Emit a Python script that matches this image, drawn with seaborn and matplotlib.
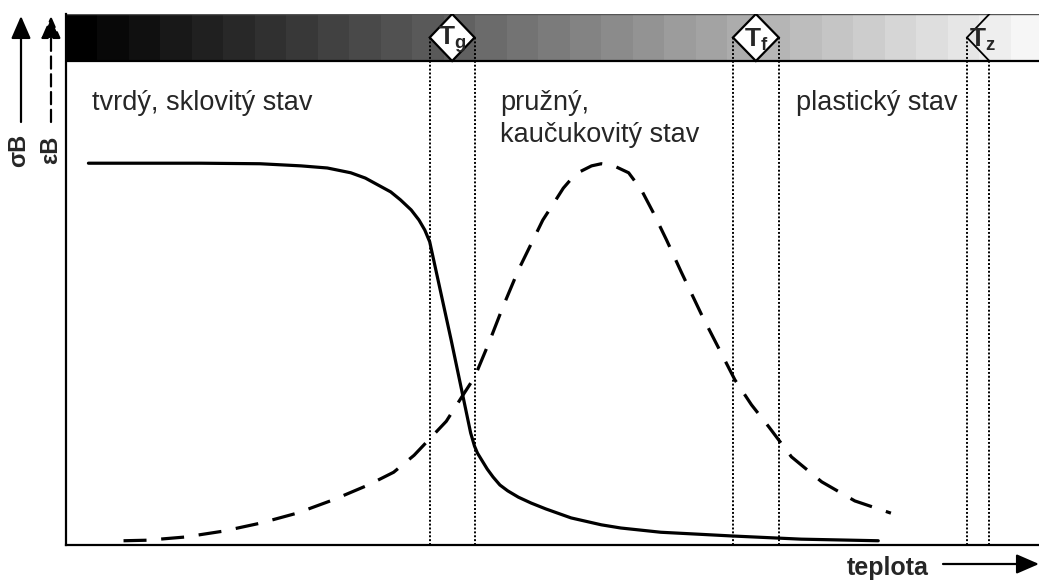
import numpy as np
import matplotlib
matplotlib.use("Agg")
import matplotlib.pyplot as plt
from matplotlib.patches import Polygon
import seaborn as sns

# Tensile strength (solid) versus temperature, relative units
sigma_t = [2.3, 8.6, 13.8, 19.9, 22.0, 24.1, 26.8, 29.2, 30.7, 32.0, 33.3, 34.3,
           35.4, 36.2, 36.8, 37.3, 39.5, 41.5, 41.9, 42.2, 42.7, 43.2, 43.8,
           44.5, 45.3, 46.4, 47.7, 49.2, 51.8, 54.9, 56.9, 61.0, 65.2, 68.3,
           75.4, 83.3]
sigma_v = [71.9, 71.9, 71.9, 71.8, 71.6, 71.4, 71.0, 70.1, 69.1, 67.8, 66.5, 65.0,
           63.1, 61.2, 59.3, 57.1, 38.6, 21.1, 18.6, 17.3, 15.8, 14.3, 12.8,
           11.3, 10.2, 9.0, 7.9, 6.8, 5.1, 3.8, 3.2, 2.4, 2.0, 1.7,
           1.1, 0.8]

# Elongation at break (dashed) versus temperature, relative units
eps_t = [5.9, 8.3, 12.2, 16.1, 19.9, 23.7, 27.4, 31.0, 33.6, 35.7, 37.3, 39.0,
         40.7, 41.9, 43.4, 44.8, 46.4, 48.9, 50.1, 51.0, 51.8, 52.6, 53.9, 54.9,
         56.2, 57.7, 59.0, 60.2, 61.6, 63.1, 65.2, 68.6, 70.3, 72.1, 74.4,
         77.5, 80.9, 84.6]
eps_v = [0.8, 0.9, 1.5, 2.6, 4.1, 6.0, 8.5, 11.3, 13.7, 16.9, 20.0, 23.3,
         28.2, 31.6, 38.2, 44.8, 51.8, 61.2, 64.6, 67.2, 68.9, 70.2, 71.4, 71.8,
         71.4, 70.1, 66.9, 62.7, 57.4, 51.4, 43.3, 31.1, 26.4, 22.2, 16.6,
         11.9, 8.3, 6.0]

# Transition temperatures: (pair of boundary lines, label, marker shape)
transitions = [((37.3, 41.9), "g", "diamond"),
               ((68.4, 73.1), "f", "diamond"),
               ((92.4, 94.7), "z", "chevron")]

regions = [(2.7, 81.9, "tvrdý, sklovitý stav"),
           (44.5, 81.9, "pružný,"),
           (44.5, 75.9, "kaučukovitý stav"),
           (74.9, 81.9, "plastický stav")]

sns.set_theme(style="white")
plt.rcParams["font.family"] = ["Liberation Sans", "DejaVu Sans"]
plt.rcParams["mathtext.fontset"] = "custom"
plt.rcParams["mathtext.rm"] = "Liberation Sans"
plt.rcParams["mathtext.bf"] = "Liberation Sans:bold"

W, H = 1039, 584
fig = plt.figure(figsize=(W / 100, H / 100), dpi=100)
ax = fig.add_axes([66 / W, 39 / H, 1 - 66 / W + 0.002, 531 / H])
ax.set_xlim(0, 100)
ax.set_ylim(0, 100)
ax.set_xticks([])
ax.set_yticks([])
for side in ("top", "right"):
    ax.spines[side].set_visible(False)
for side in ("left", "bottom"):
    ax.spines[side].set_color("black")
    ax.spines[side].set_linewidth(1.6)

# stepped temperature band along the top
band_lo = 91.15
levels = np.arange(31) * 8.2
ax.imshow(levels[np.newaxis, :], cmap="gray", vmin=0, vmax=255,
          extent=[0, 100, band_lo, 100], aspect="auto",
          interpolation="nearest", zorder=1)
ax.axhline(100, color="#555555", lw=1.0, zorder=2)
ax.axhline(band_lo, color="black", lw=1.6, zorder=2)

band_mid = (band_lo + 100) / 2
dotted = dict(color="black", lw=1.4, linestyle=(0, (1.0, 1.0)), zorder=3)
for (x0, x1), sub, shape in transitions:
    xc = (x0 + x1) / 2
    label = rf"$\mathbf{{T}}_{{\mathbf{{{sub}}}}}$"
    if shape == "diamond":
        ax.plot([x0, x0], [0, band_mid], **dotted)
        ax.plot([x1, x1], [0, band_mid], **dotted)
        poly = Polygon([(x0, band_mid), (xc, 100), (x1, band_mid), (xc, band_lo)],
                       closed=True, facecolor="white", edgecolor="black",
                       lw=1.6, zorder=4)
        ax.add_patch(poly)
        ax.text(xc, band_mid - 0.4, label, ha="center", va="center",
                fontsize=19, zorder=5)
    else:
        ax.plot([x0, x0], [0, band_mid], **dotted)
        ax.plot([x1, x1], [0, band_lo], **dotted)
        ax.plot([x1, x0, x1], [100, band_mid, band_lo], color="black",
                lw=1.3, zorder=4, solid_joinstyle="miter")
        ax.text(x0 + 0.2, band_mid - 0.4, label, ha="left", va="center",
                fontsize=19, zorder=5)

sns.lineplot(x=sigma_t, y=sigma_v, ax=ax, color="black", lw=2.3,
             estimator=None, sort=False, zorder=6)
sns.lineplot(x=eps_t, y=eps_v, ax=ax, color="black", lw=2.3,
             estimator=None, sort=False, linestyle=(0, (7.2, 4.6)), zorder=6)

for xt, yt, label in regions:
    ax.text(xt, yt, label, fontsize=19.5, ha="left", va="baseline", zorder=7)

# axis captions with arrows, placed in figure pixels
fig.text(847 / W, (H - 575) / H, "teplota", fontsize=18, fontweight="bold",
         ha="left", va="baseline")
arrow = dict(arrowstyle="-|>,head_length=1.15,head_width=0.5", color="black",
             lw=1.6, shrinkA=0, shrinkB=0)
ax.annotate("", xy=(1039, H - 564), xytext=(943, H - 564),
            xycoords="figure pixels", textcoords="figure pixels",
            arrowprops=arrow, annotation_clip=False)
ax.annotate("", xy=(21, H - 16), xytext=(21, H - 122),
            xycoords="figure pixels", textcoords="figure pixels",
            arrowprops=arrow, annotation_clip=False)
dashed_arrow = dict(arrow, linestyle=(0, (5.5, 2.5)))
ax.annotate("", xy=(51, H - 16), xytext=(51, H - 122),
            xycoords="figure pixels", textcoords="figure pixels",
            arrowprops=dashed_arrow, annotation_clip=False)
fig.text(19 / W, (H - 150) / H, "σB", fontsize=17, fontweight="bold",
         rotation=90, ha="center", va="center")
fig.text(51 / W, (H - 150) / H, "εB", fontsize=17, fontweight="bold",
         rotation=90, ha="center", va="center")

fig.savefig("out.png", dpi=100)
